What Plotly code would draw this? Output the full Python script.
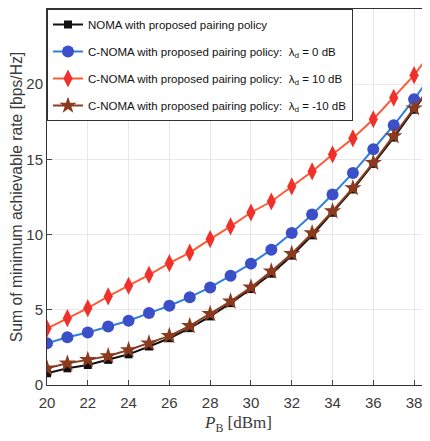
import plotly.graph_objects as go

x_pb = list(range(20, 40))

noma = [0.78, 1.11, 1.33, 1.67, 2.04, 2.56, 3.11, 3.78, 4.56, 5.44,
        6.38, 7.40, 8.60, 9.95, 11.45, 13.0, 14.7, 16.45, 18.3, 20.2]
cnoma_0 = [2.78, 3.18, 3.49, 3.89, 4.27, 4.78, 5.27, 5.84, 6.49, 7.27,
           8.07, 9.0, 10.1, 11.33, 12.67, 14.1, 15.67, 17.27, 19.0, 20.9]
cnoma_10 = [3.75, 4.44, 5.11, 5.89, 6.6, 7.33, 8.1, 8.8, 9.7, 10.55,
            11.47, 12.2, 13.2, 14.2, 15.33, 16.4, 17.67, 19.1, 20.6, 22.4]
cnoma_m10 = [1.11, 1.44, 1.67, 1.93, 2.33, 2.78, 3.27, 3.93, 4.73, 5.56,
             6.49, 7.56, 8.73, 10.1, 11.56, 13.1, 14.78, 16.55, 18.4, 20.2]

names = [
    "NOMA with proposed pairing policy",
    "C-NOMA with proposed pairing policy:  λ<sub>d</sub> = 0 dB",
    "C-NOMA with proposed pairing policy:  λ<sub>d</sub> = 10 dB",
    "C-NOMA with proposed pairing policy:  λ<sub>d</sub> = -10 dB",
]

x_ticks = [20, 22, 24, 26, 28, 30, 32, 34, 36, 38]
y_ticks = [0, 5, 10, 15, 20, 25]

fig = go.Figure()
fig.add_trace(go.Scatter(x=x_pb, y=noma, name=names[0], mode="lines+markers", legendgroup="a",
                         line=dict(color="#111111", width=2),
                         marker=dict(symbol="square", size=8, color="#111111")))
fig.add_trace(go.Scatter(x=x_pb, y=cnoma_0, name=names[1], mode="lines+markers", legendgroup="b",
                         line=dict(color="#2f7ee0", width=2),
                         marker=dict(symbol="circle", size=12, color="#3a4fc8")))
fig.add_trace(go.Scatter(x=x_pb, y=cnoma_10, name=names[2], mode="lines+markers", legendgroup="c",
                         line=dict(color="#ff5a36", width=2),
                         marker=dict(symbol="diamond-tall", size=13, color="#f0302a")))
fig.add_trace(go.Scatter(x=x_pb, y=cnoma_m10, name=names[3], mode="lines+markers", legendgroup="d",
                         line=dict(color="#8b3f22", width=2),
                         marker=dict(symbol="star", size=13, color="#8b3a1e")))

fig.update_layout(
    width=422, height=433,
    margin=dict(l=39, r=0, t=1, b=56),
    plot_bgcolor="white", paper_bgcolor="white",
    font=dict(family="Liberation Sans, Arial, sans-serif", size=15, color="#3a3a3a"),
    showlegend=True,
    legend=dict(x=0.0, y=1.0, xanchor="left", yanchor="top",
                bgcolor="white", bordercolor="#333333", borderwidth=1,
                font=dict(size=11.5, color="#111111"),
                tracegroupgap=8, itemwidth=30),
    xaxis=dict(range=[20, 38.78], tickvals=x_ticks, ticks="inside", ticklen=5,
               showgrid=True, gridcolor="#e8e8e8", showline=True, linecolor="#333333",
               mirror=True, zeroline=False, tickfont=dict(size=15), automargin=False,
               ticklabelstandoff=4,
               title=dict(text="<i>P</i><sub>B</sub> [dBm]",
                          font=dict(family="Liberation Serif, Times New Roman, serif", size=17, color="#3a3a3a"),
                          standoff=6)),
    yaxis=dict(range=[0, 25], tickvals=y_ticks, ticks="inside", ticklen=5,
               showgrid=True, gridcolor="#e8e8e8", showline=True, linecolor="#333333",
               mirror=True, zeroline=False, tickfont=dict(size=15), automargin=False,
               title=dict(text="Sum of minimum achievable rate [bps/Hz]",
                          font=dict(family="Liberation Sans, Arial, sans-serif", size=15.7, color="#3a3a3a"),
                          standoff=0)),
)

fig.write_html("out.html")
